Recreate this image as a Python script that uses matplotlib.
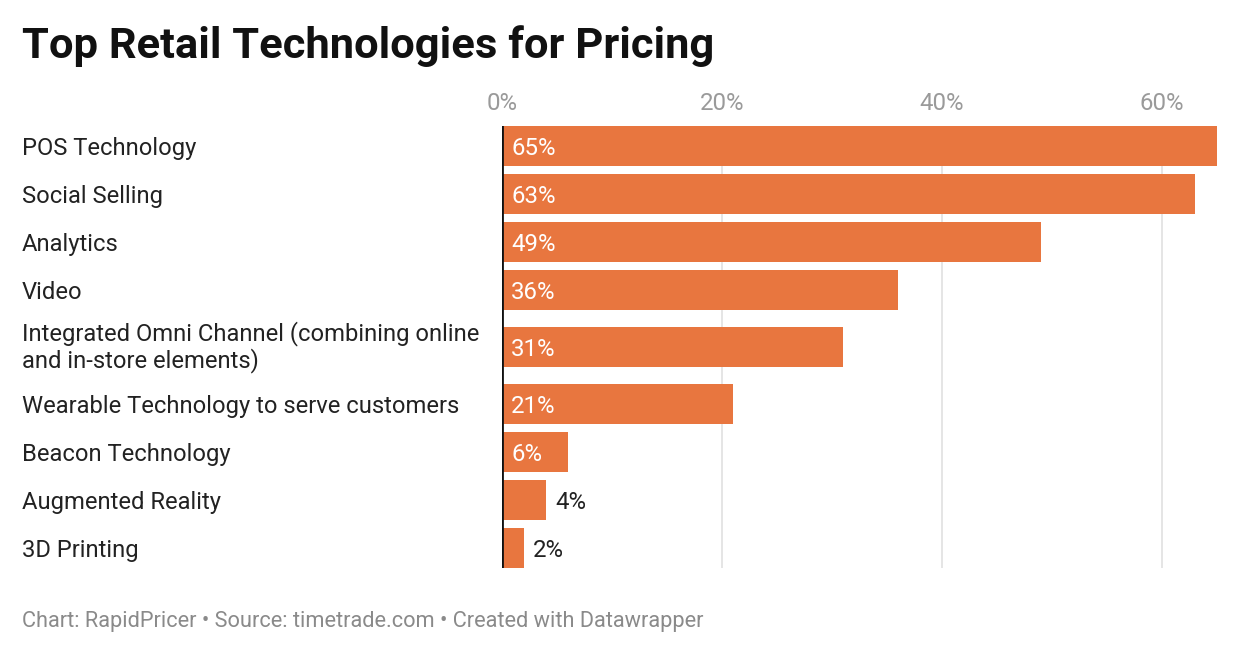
import matplotlib.pyplot as plt
import matplotlib.transforms as mtransforms
import numpy as np

plt.rcParams['font.family'] = ['Roboto', 'DejaVu Sans']

categories = [
    'POS Technology',
    'Social Selling',
    'Analytics',
    'Video',
    'Integrated Omni Channel (combining online\nand in-store elements)',
    'Wearable Technology to serve customers',
    'Beacon Technology',
    'Augmented Reality',
    '3D Printing',
]
values = [65, 63, 49, 36, 31, 21, 6, 4, 2]
ticks = [0, 20, 40, 60]
tick_labels = ['0%', '20%', '40%', '60%']

BAR = '#e8763f'
bar_h = 40 / 48
extra = 18 / 48

# row slots grow with the number of label lines
slots = np.array([1 + extra * (c.count('\n')) for c in categories])
centers = np.cumsum(slots) - slots / 2
pad = (1 - bar_h) / 2

fig = plt.figure(figsize=(12.4, 6.54), dpi=100)
ax = fig.add_axes([502 / 1240, 1 - 568 / 654, (1217 - 502) / 1240, (568 - 126) / 654])

ax.barh(centers, values, height=bar_h, color=BAR, zorder=2)
ax.set_xlim(0, 65)
ax.set_ylim(slots.sum() - pad, pad)

for x in ticks[1:]:
    ax.axvline(x, color='#e3e3e3', lw=1.3, zorder=1)
ax.axvline(0, color='#111111', lw=2, zorder=3)

ax.xaxis.tick_top()
ax.set_xticks(ticks)
ax.set_xticklabels(tick_labels, fontsize=17.3, color='#9a9a9a')
ax.tick_params(axis='x', length=0, pad=8)
ax.set_yticks([])
for s in ax.spines.values():
    s.set_visible(False)

for y, v in zip(centers, values):
    if v >= 6:
        ax.text(0.85, y, f'{v}%', color='white', fontsize=17.3, va='center_baseline', ha='left', zorder=4)
    else:
        ax.text(v + 0.85, y, f'{v}%', color='#222222', fontsize=17.3, va='center_baseline', ha='left', zorder=4)

lab_tr = mtransforms.blended_transform_factory(fig.transFigure, ax.transData)
for y, c in zip(centers, categories):
    ax.text(22 / 1240, y, c, transform=lab_tr, fontsize=17.1, color='#222222',
            va='center_baseline' if '\n' not in c else 'center', ha='left', linespacing=1.1)

fig.text(22 / 1240, 1 - 46 / 654, 'Top Retail Technologies for Pricing', fontsize=31.3,
         fontweight='bold', color='#111111', va='center', ha='left')
fig.text(22 / 1240, 1 - 621 / 654, 'Chart: RapidPricer • Source: timetrade.com • Created with Datawrapper',
         fontsize=15.7, color='#8a8a8a', va='center', ha='left')

fig.savefig('out.png', dpi=100)
